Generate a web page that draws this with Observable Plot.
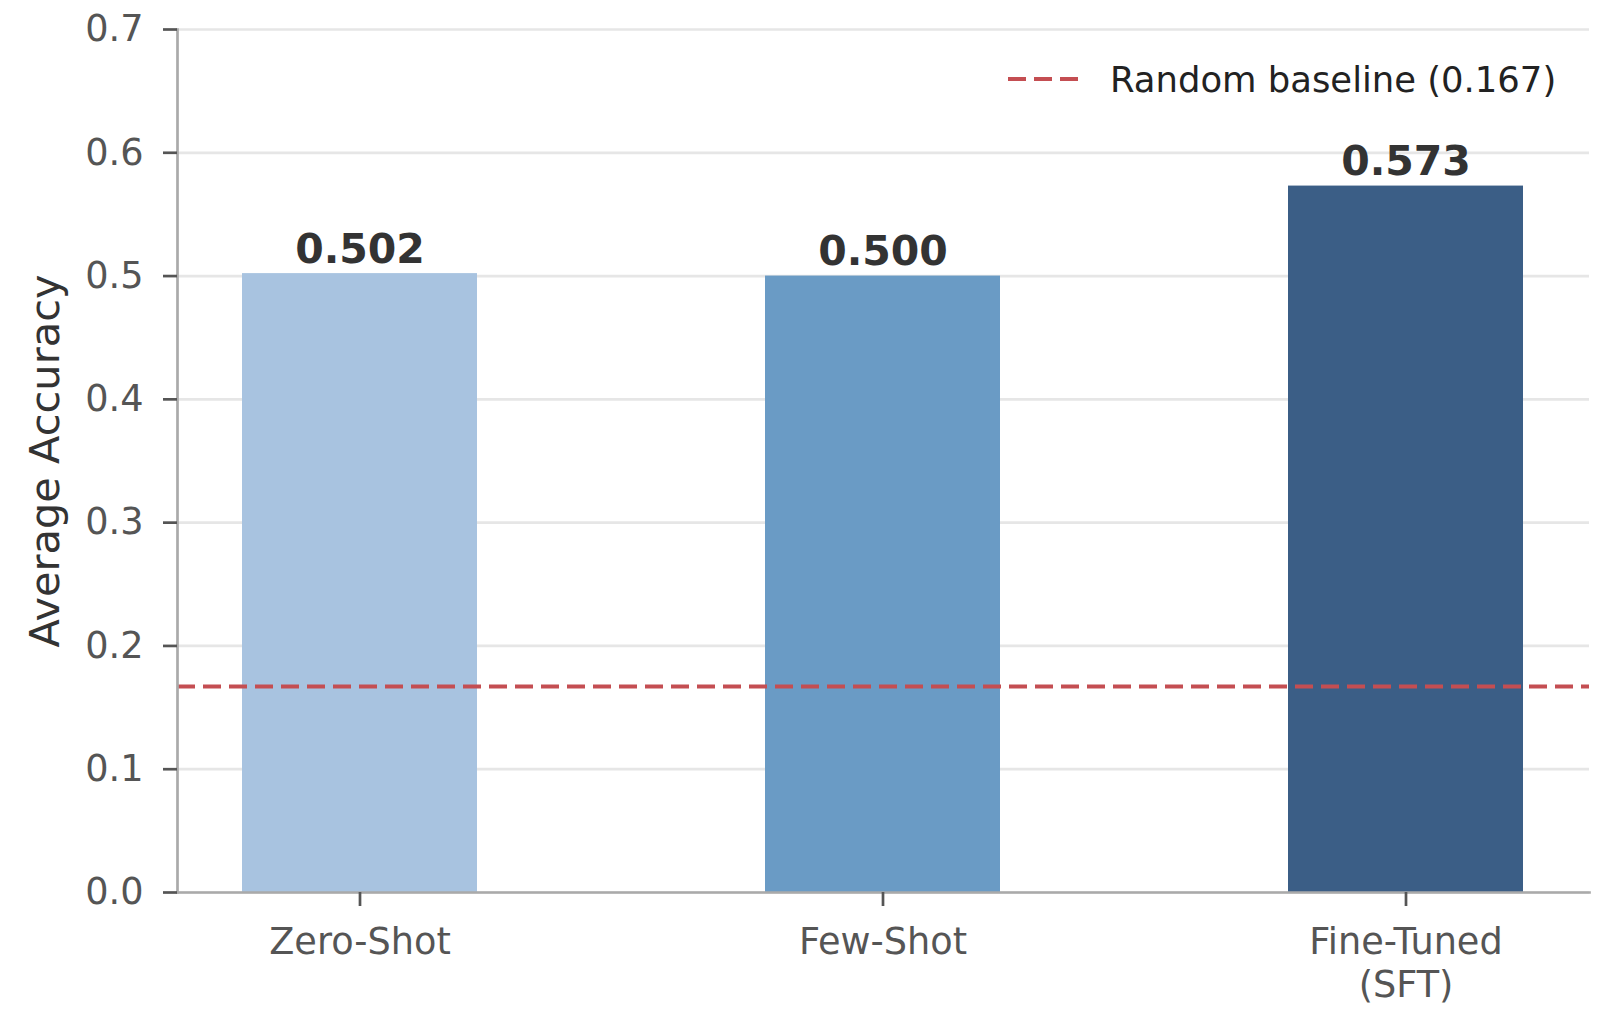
<!DOCTYPE html>
<html>
<head>
<meta charset="utf-8">
<script src="https://cdn.jsdelivr.net/npm/d3@7"></script>
<script src="https://cdn.jsdelivr.net/npm/@observablehq/plot@0.6"></script>
<style>
  html, body { margin: 0; padding: 0; background: #fff; }
  svg { font-family: "DejaVu Sans", sans-serif; }
</style>
</head>
<body>
<div id="chart"></div>
<script>
const categories = ["Zero-Shot", "Few-Shot", "Fine-Tuned\n(SFT)"];
const accuracy = [0.502, 0.500, 0.573];
const barColors = ["#a8c3e0", "#6a9bc5", "#3b5e86"];
const yTicks = [0, 0.1, 0.2, 0.3, 0.4, 0.5, 0.6, 0.7];
const baseline = 0.167;
const baselineLabel = "Random baseline (0.167)";
const yLabel = "Average Accuracy";
const baselineColor = "#c44e52";

const data = categories.map((c, i) => ({method: c, acc: accuracy[i], color: barColors[i]}));

const W = 1616, H = 1032;
const mL = 177, mR = 27, mT = 29, mB = 140;

const svg = Plot.plot({
  width: W,
  height: H,
  marginLeft: mL,
  marginRight: mR,
  marginTop: mT,
  marginBottom: mB,
  style: {fontFamily: "DejaVu Sans, sans-serif", background: "#fff"},
  x: {domain: categories, paddingInner: 0.55, paddingOuter: 0.1225},
  y: {domain: [0, 0.7]},
  marks: [
    Plot.gridY(yTicks, {stroke: "#e6e6e6", strokeOpacity: 1, strokeWidth: 2.7}),
    Plot.barY(data, {x: "method", y: "acc", fill: "color"}),
    Plot.ruleY([baseline], {stroke: baselineColor, strokeWidth: 4, strokeDasharray: "18,8"}),
    Plot.text(data, {
      x: "method", y: "acc", text: d => d3.format(".3f")(d.acc),
      lineAnchor: "bottom", dy: -11, fontSize: 41, fontWeight: "bold", fill: "#333"
    }),
    Plot.frame({anchor: "left", stroke: "#aaaaaa", strokeWidth: 2.7}),
    Plot.frame({anchor: "bottom", stroke: "#aaaaaa", strokeWidth: 2.7}),
    Plot.axisY({
      ticks: yTicks, tickFormat: d3.format(".1f"), tickSize: 14, tickPadding: 20,
      fontSize: 36.67, fill: "#555", stroke: "#555", strokeWidth: 2.7, label: null
    }),
    Plot.axisX({
      tickSize: 14, tickPadding: 17, fontSize: 36.67, fill: "#555", stroke: "#555",
      strokeWidth: 2.7, lineHeight: 1.17, label: null
    }),
    Plot.text([yLabel], {
      frameAnchor: "left", textAnchor: "middle", dx: -132, rotate: -90, fontSize: 41.5, fill: "#333"
    })
  ]
});

// Legend (inside the plot area, top-right)
const s = d3.select(svg);
const lg = s.append("g").attr("text-anchor", "start");
lg.append("line")
  .attr("x1", 1008).attr("x2", 1080).attr("y1", 79).attr("y2", 79)
  .attr("stroke", baselineColor).attr("stroke-width", 4).attr("stroke-dasharray", "18,8");
lg.append("text")
  .attr("x", 1110).attr("y", 92)
  .attr("text-anchor", "start")
  .attr("font-size", 35.4).attr("fill", "#222")
  .attr("font-family", "DejaVu Sans, sans-serif")
  .text(baselineLabel);

document.getElementById("chart").appendChild(svg);
</script>
</body>
</html>
